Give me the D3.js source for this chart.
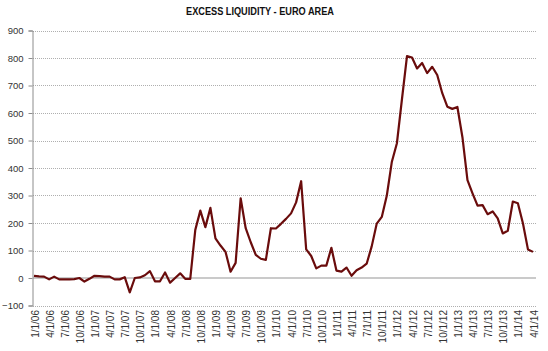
<!DOCTYPE html>
<html>
<head>
<meta charset="utf-8">
<script src="https://cdn.jsdelivr.net/npm/d3@7"></script>
<style>
  html, body { margin: 0; padding: 0; background: #fff; }
  text { font-family: "Liberation Sans", Arial, sans-serif; }
</style>
</head>
<body>
<div class="container"></div>
<script>
// Excess liquidity, EUR bn, monthly from Jan 2006 to Apr 2014.
const startMonth = new Date(2006, 0, 1);
const endMonth = new Date(2014, 3, 1);
const months = d3.timeMonth.range(startMonth, d3.timeMonth.offset(endMonth, 1));

const values = [
    8, 6, 5, -5, 5, -5, -5, -5, -4, 0, -13, -3,            // 2006
    8, 7, 5, 5, -5, -5, 3, -52, 0, 2, 10, 25,              // 2007
    -12, -12, 20, -17, 0, 17, -3, -3, 175, 245, 185, 255,  // 2008
    144, 118, 95, 23, 55, 290, 181, 130, 84, 70, 66, 181,  // 2009
    180, 197, 215, 235, 275, 352, 104, 80, 35, 45, 45, 110,// 2010
    27, 23, 38, 8, 28, 38, 52, 115, 198, 222, 300, 423,    // 2011
    490, 650, 807, 802, 762, 782, 745, 768, 738, 672, 623, 615, // 2012
    622, 512, 356, 308, 263, 265, 232, 242, 217, 162, 172, 278, // 2013
    272, 199, 104, 95                                       // 2014
];

const yTicks = [-100, 0, 100, 200, 300, 400, 500, 600, 700, 800, 900];
const title = "EXCESS LIQUIDITY - EURO AREA";

const fmt = d3.timeFormat("%-m/%-d/%y");
const tickMonths = months.filter((d, i) => i % 3 === 0);

const width = 548;
const height = 351;

const svg = d3.select(".container")
    .append("svg")
    .attr("width", width)
    .attr("height", height);

const x = d3.scalePoint()
    .domain(months.map(d => +d))
    .range([34, 533]);

const y = d3.scaleLinear()
    .domain([-100, 900])
    .range([305.5, 30.5]);

// Title
svg.append("text")
    .attr("x", 260)
    .attr("y", 15)
    .attr("text-anchor", "middle")
    .attr("font-size", 10.5)
    .attr("font-weight", "bold")
    .attr("fill", "#111")
    .attr("textLength", 148)
    .attr("lengthAdjust", "spacingAndGlyphs")
    .text(title);

// Gridlines (dotted), zero line solid
svg.append("g")
    .selectAll("line")
    .data(yTicks.filter(d => d !== 0))
    .enter()
    .append("line")
    .attr("x1", 33)
    .attr("x2", 536)
    .attr("y1", d => Math.round(y(d)) + 0.5)
    .attr("y2", d => Math.round(y(d)) + 0.5)
    .attr("stroke", "#9a9a9a")
    .attr("stroke-width", 0.8)
    .attr("stroke-dasharray", "1,1");

svg.append("line")
    .attr("x1", 33)
    .attr("x2", 536)
    .attr("y1", y(0))
    .attr("y2", y(0))
    .attr("stroke", "#b8b8b8")
    .attr("stroke-width", 1.6);

// Y axis
const yAxis = d3.axisLeft(y)
    .tickValues(yTicks)
    .tickSize(4)
    .tickPadding(5);

const gy = svg.append("g")
    .attr("transform", "translate(32.5,0)")
    .call(yAxis);
gy.select(".domain").attr("stroke", "#8c8c8c");
gy.selectAll(".tick line").attr("stroke", "#8c8c8c");
gy.selectAll(".tick text")
    .attr("font-family", "Liberation Sans, Arial, sans-serif")
    .attr("font-size", 9.5)
    .attr("fill", "#333");

// X labels at the bottom, rotated
svg.append("g")
    .selectAll("text")
    .data(tickMonths)
    .enter()
    .append("text")
    .attr("transform", d => `translate(${x(+d) + 1},310) rotate(-90)`)
    .attr("dy", "0.35em")
    .attr("text-anchor", "end")
    .attr("font-size", 10)
    .attr("fill", "#333")
    .text(d => fmt(d));

// The series
const line = d3.line()
    .x((d, i) => x(+months[i]))
    .y(d => y(d));

svg.append("path")
    .datum(values)
    .attr("fill", "none")
    .attr("stroke", "#6a0c0c")
    .attr("stroke-width", 2.2)
    .attr("stroke-linejoin", "round")
    .attr("d", line);
</script>
</body>
</html>
